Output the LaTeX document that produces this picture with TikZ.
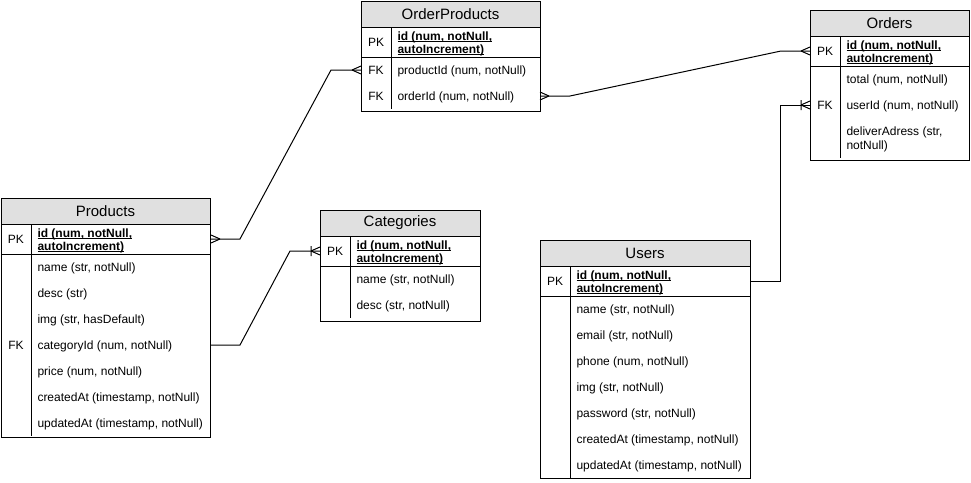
\documentclass[tikz,border=0pt]{standalone}
\usepackage{fontspec}
\setmainfont{Liberation Sans}
\definecolor{hdr}{HTML}{E0E0E0}
\tikzset{
  frame/.style={draw=black},
  hdrfill/.style={fill=hdr},
  ttl/.style={anchor=center, inner sep=0, font=\fontsize{15}{17}\selectfont},
  fld/.style={anchor=base west, inner sep=0, font=\fontsize{12}{14}\selectfont},
  keylab/.style={anchor=base, inner sep=0, font=\fontsize{12}{14}\selectfont},
  pkfld/.style={anchor=base west, inner sep=0, align=left, font=\fontsize{12}{13}\selectfont\bfseries},
  twoline/.style={anchor=base west, inner sep=0, align=left, font=\fontsize{12}{14}\selectfont},
  conn/.style={draw=black},
  pics/crow/.style={code={\draw (-9,0) -- (0,-4) (-9,0) -- (0,4);}},
  pics/barcrow/.style={code={\draw (-9,0) -- (0,-4) (-9,0) -- (0,4) (-9,-5) -- (-9,5);}}
}
\newcommand{\ulline}[1]{\underline{\smash{#1}}}
\newcommand{\pkid}{\ulline{id (num, notNull,}\\\ulline{autoIncrement)}}
\begin{document}
\begin{tikzpicture}[x=1pt,y=-1pt,line width=1pt]
\useasboundingbox (0,0) rectangle (971,482);

% ---------------- Products ----------------
\fill[hdrfill] (1,198) rectangle (210,224);
\draw[frame] (1,198) rectangle (210,437);
\draw (1,224) -- (210,224) (1,254) -- (210,254) (31,224) -- (31,436);
\node[ttl] (pT) at (105.5,211) {Products};
\node[keylab] (pK1) at (16,243.3) {PK};
\node[pkfld] (pF1) at (37,250) {\pkid};
\node[fld] (pF2) at (37,271.3) {name (str, notNull)};
\node[fld] (pF3) at (37,297.3) {desc (str)};
\node[fld] (pF4) at (37,323.3) {img (str, hasDefault)};
\node[keylab] (pK5) at (16,349.3) {FK};
\node[fld] (pF5) at (37,349.3) {categoryId (num, notNull)};
\node[fld] (pF6) at (37,375.3) {price (num, notNull)};
\node[fld] (pF7) at (37,401.3) {createdAt (timestamp, notNull)};
\node[fld] (pF8) at (37,427.3) {updatedAt (timestamp, notNull)};

% ---------------- OrderProducts ----------------
\fill[hdrfill] (361,1) rectangle (540,27);
\draw[frame] (361,1) rectangle (540,111);
\draw (361,27) -- (540,27) (361,57) -- (540,57) (391,27) -- (391,109);
\node[ttl] (opT) at (450.5,14) {OrderProducts};
\node[keylab] (opK1) at (376,46.3) {PK};
\node[pkfld] (opF1) at (397,53) {\pkid};
\node[keylab] (opK2) at (376,74.3) {FK};
\node[fld] (opF2) at (397,74.3) {productId (num, notNull)};
\node[keylab] (opK3) at (376,100.3) {FK};
\node[fld] (opF3) at (397,100.3) {orderId (num, notNull)};

% ---------------- Orders ----------------
\fill[hdrfill] (810,10) rectangle (969,36);
\draw[frame] (810,10) rectangle (969,160);
\draw (810,36) -- (969,36) (810,66) -- (969,66) (840,36) -- (840,158);
\node[ttl] (oT) at (889.5,23) {Orders};
\node[keylab] (oK1) at (825,55.3) {PK};
\node[pkfld] (oF1) at (846,62) {\pkid};
\node[fld] (oF2) at (846,83.3) {total (num, notNull)};
\node[keylab] (oK3) at (825,109.3) {FK};
\node[fld] (oF3) at (846,109.3) {userId (num, notNull)};
\node[twoline] (oF4) at (846,149.3) {deliverAdress (str,\\notNull)};

% ---------------- Categories ----------------
\fill[hdrfill] (320,210) rectangle (480,236);
\draw[frame] (320,210) rectangle (480,321);
\draw (320,236) -- (480,236) (320,266) -- (480,266) (350,236) -- (350,318);
\node[ttl] (cT) at (400,223) {Categories};
\node[keylab] (cK1) at (335,255.3) {PK};
\node[pkfld] (cF1) at (356,262) {\pkid};
\node[fld] (cF2) at (356,283.3) {name (str, notNull)};
\node[fld] (cF3) at (356,309.3) {desc (str, notNull)};

% ---------------- Users ----------------
\fill[hdrfill] (540,240) rectangle (750,266);
\draw[frame] (540,240) rectangle (750,478);
\draw (540,266) -- (750,266) (540,296) -- (750,296) (570,266) -- (570,478);
\node[ttl] (uT) at (645,253) {Users};
\node[keylab] (uK1) at (555,285.3) {PK};
\node[pkfld] (uF1) at (576,292) {\pkid};
\node[fld] (uF2) at (576,313.3) {name (str, notNull)};
\node[fld] (uF3) at (576,339.3) {email (str, notNull)};
\node[fld] (uF4) at (576,365.3) {phone (num, notNull)};
\node[fld] (uF5) at (576,391.3) {img (str, notNull)};
\node[fld] (uF6) at (576,417.3) {password (str, notNull)};
\node[fld] (uF7) at (576,443.3) {createdAt (timestamp, notNull)};
\node[fld] (uF8) at (576,469.3) {updatedAt (timestamp, notNull)};

% ---------------- connector end points ----------------
\coordinate (opPidW) at (361,70);
\coordinate (opPidB) at (331,70);
\coordinate (pPkB) at (240,239);
\coordinate (pPkE) at (211,239);

\coordinate (opOidE) at (540,96);
\coordinate (opOidB) at (570,96);
\coordinate (oPkB) at (781,51);
\coordinate (oPkW) at (810,51);

\coordinate (pCatE) at (210,345);
\coordinate (pCatB) at (240,345);
\coordinate (cPkB) at (290,251);
\coordinate (cPkW) at (320,251);

\coordinate (uPkE) at (750,281);
\coordinate (uPkB) at (780,281);
\coordinate (oUidB) at (780,105);
\coordinate (oUidW) at (810,105);

% ---------------- connectors ----------------
\draw[conn] (opPidW) -- (opPidB) -- (pPkB) -- (pPkE);
\draw[conn] (opOidE) -- (opOidB) -- (oPkB) -- (oPkW);
\draw[conn] (pCatE) -- (pCatB) -- (cPkB) -- (cPkW);
\draw[conn] (uPkE) -- (uPkB) -- (oUidB) -- (oUidW);

% ---------------- markers ----------------
\pic at (opPidW) {crow};
\pic[xscale=-1] at (pPkE) {crow};
\pic[xscale=-1] at (opOidE) {crow};
\pic at (oPkW) {crow};
\pic at (cPkW) {barcrow};
\pic at (oUidW) {barcrow};
\end{tikzpicture}
\end{document}
